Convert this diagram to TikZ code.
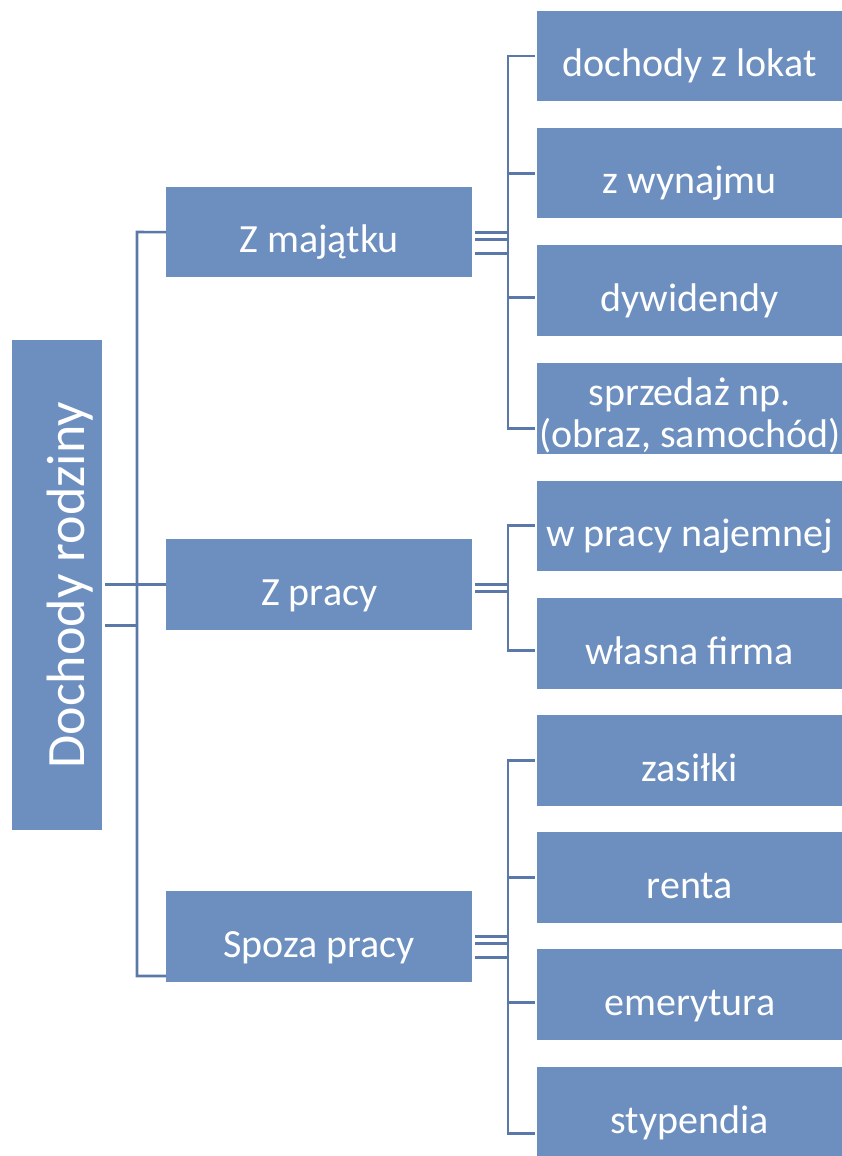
\documentclass[tikz,border=0pt]{standalone}
\usepackage{fontspec}
\setmainfont{Carlito}
\usetikzlibrary{calc}
\definecolor{boxblue}{RGB}{108,143,192}
\definecolor{lineblue}{RGB}{91,121,168}
\begin{document}
\begin{tikzpicture}[x=1pt,y=-1pt,
  box/.style={fill=boxblue,draw=none,text=white,anchor=north west,inner sep=0pt,
    minimum width=#1,align=center,font=\fontsize{40}{42}\selectfont},
  box/.default=306,
  oneline/.style={text height=44pt,text depth=3pt},
  conn/.style={draw=lineblue,line width=2.6pt}]
\useasboundingbox (0,0) rectangle (842,1156);

% root
\node[box, minimum width=90, minimum height=490] (root) at (12,340) {};
\node[text=white, rotate=90, inner sep=0pt, text height=57pt, text depth=3pt,
  font=\fontsize{54}{58}\selectfont] (roottext) at (root.center) {Dochody rodziny};

% middle level
\node[box, oneline, minimum height=90] (maj) at (166,187) {Z majątku};
\node[box, oneline, minimum height=91] (pracy) at (166,539) {Z pracy};
\node[box, oneline, minimum height=91] (spoza) at (166,891) {Spoza pracy};

% leaves
\node[box=305, oneline, minimum height=90] (lokat) at (537,11) {dochody z lokat};
\node[box=305, oneline, minimum height=90] (wynajem) at (537,128) {z wynajmu};
\node[box=305, oneline, minimum height=91] (dywid) at (537,245) {dywidendy};
\node[box=305, minimum height=91] (sprzedaz) at (537,363)
  {\raisebox{-9pt}[\height][\depth]{\begin{tabular}{@{}c@{}}sprzedaż np.\\(obraz, samochód)\end{tabular}}};
\node[box=305, oneline, minimum height=90] (najem) at (537,481) {w pracy najemnej};
\node[box=305, oneline, minimum height=91] (firma) at (537,598) {własna firma};
\node[box=305, oneline, minimum height=91] (zasilki) at (537,715) {zasiłki};
\node[box=305, oneline, minimum height=91] (renta) at (537,832) {renta};
\node[box=305, oneline, minimum height=91] (emer) at (537,949) {emerytura};
\node[box=305, oneline, minimum height=91] (styp) at (537,1067) {stypendia};

% bus coordinates
\coordinate (rbusT) at (137,232);
\coordinate (rbusB) at (137,976);
\coordinate (busA) at (508,0);
\coordinate (busB) at (508,0);
\coordinate (busC) at (508,0);

% root to middle
\draw[conn] ([xshift=3pt,yshift=1pt]root.east) -- ([yshift=0.5pt]pracy.west);
\draw[conn] ([xshift=3pt,yshift=-40pt]root.east) -- ([yshift=-40pt]root.east -| rbusT);
\draw[conn] (maj.west) -- (rbusT) -- (rbusB) -- (rbusB -| spoza.west);

% Z majątku group
\draw[conn] ([xshift=3pt]maj.east) -- (maj.east -| busA);
\draw[conn] ([xshift=3pt,yshift=-7pt]maj.east) -- ([yshift=-7pt]maj.east -| busA);
\draw[conn] ([xshift=3pt,yshift=-21pt]maj.east) -- ([yshift=-21pt]maj.east -| busA);
\draw[conn] ([xshift=-2pt]lokat.west) -- (lokat.west -| busA)
  -- ([yshift=-19.5pt]sprzedaz.west -| busA) -- ([xshift=-2pt,yshift=-19.5pt]sprzedaz.west);
\draw[conn] (wynajem.west -| busA) -- ([xshift=-2pt]wynajem.west);
\draw[conn] ([yshift=-6.5pt]dywid.west -| busA) -- ([xshift=-2pt,yshift=-6.5pt]dywid.west);

% Z pracy group
\draw[conn] ([xshift=3pt]pracy.east) -- (pracy.east -| busB);
\draw[conn] ([xshift=3pt,yshift=-7pt]pracy.east) -- ([yshift=-7pt]pracy.east -| busB);
\draw[conn] ([xshift=-2pt,yshift=1pt]najem.west) -- ([yshift=1pt]najem.west -| busB)
  -- ([yshift=-6.5pt]firma.west -| busB) -- ([xshift=-2pt,yshift=-6.5pt]firma.west);

% Spoza pracy group
\draw[conn] ([xshift=3pt]spoza.east) -- (spoza.east -| busC);
\draw[conn] ([xshift=3pt,yshift=-7pt]spoza.east) -- ([yshift=-7pt]spoza.east -| busC);
\draw[conn] ([xshift=3pt,yshift=-21pt]spoza.east) -- ([yshift=-21pt]spoza.east -| busC);
\draw[conn] ([xshift=-2pt]zasilki.west) -- (zasilki.west -| busC)
  -- ([yshift=-21pt]styp.west -| busC) -- ([xshift=-2pt,yshift=-21pt]styp.west);
\draw[conn] (renta.west -| busC) -- ([xshift=-2pt]renta.west);
\draw[conn] ([yshift=-7.5pt]emer.west -| busC) -- ([xshift=-2pt,yshift=-7.5pt]emer.west);
\end{tikzpicture}
\end{document}
